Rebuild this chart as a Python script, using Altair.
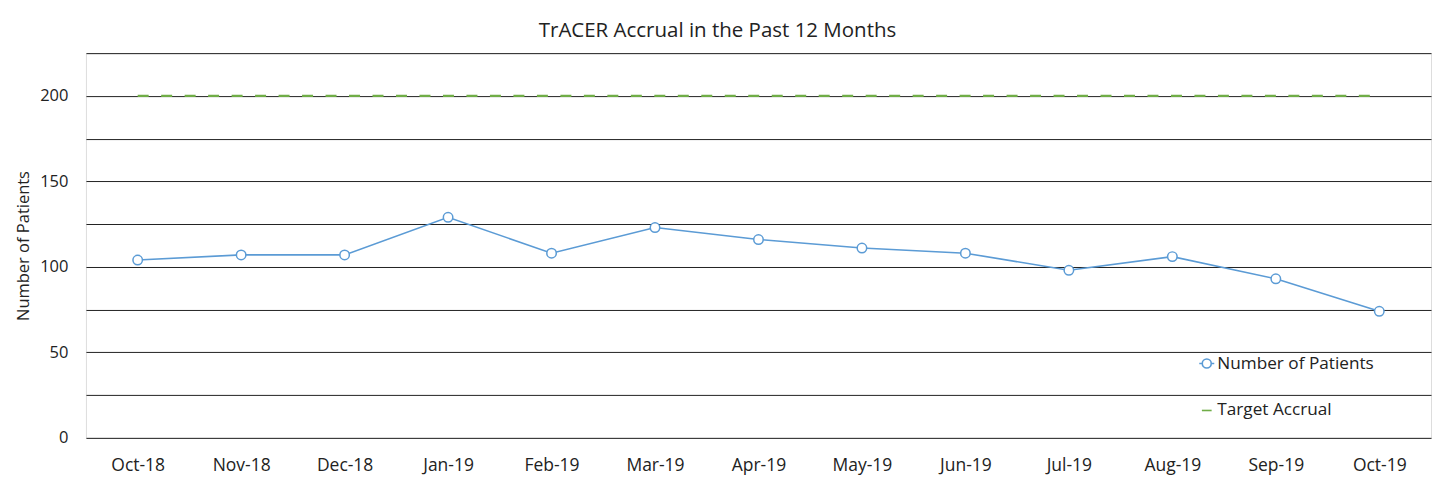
import altair as alt
import pandas as pd

months = ["Oct-18", "Nov-18", "Dec-18", "Jan-19", "Feb-19", "Mar-19", "Apr-19",
          "May-19", "Jun-19", "Jul-19", "Aug-19", "Sep-19", "Oct-19"]
patients = [104, 107, 107, 129, 108, 123, 116, 111, 108, 98, 106, 93, 74]
target = [200] * 13
series_names = ["Number of Patients", "Target Accrual"]

rows = []
for m, p, t in zip(months, patients, target):
    rows.append({"month": m, "series": series_names[0], "value": p})
    rows.append({"month": m, "series": series_names[1], "value": t})
df = pd.DataFrame(rows)

FONT = "Open Sans"
BLUE = "#5B9BD5"
GREEN = "#70AD47"

patients_path = "M-1,0H-0.6M0.6,0H1M0.6,0A0.6,0.6,0,1,1,-0.6,0A0.6,0.6,0,1,1,0.6,0"
target_path = "M-0.65,0H0.65"

x = alt.X("month:N", sort=months, title=None,
          scale=alt.Scale(type="point", padding=0.5),
          axis=alt.Axis(labelAngle=0, ticks=False, domain=False, grid=False,
                        labelPadding=19, labelFontSize=17.5, labelColor="#222"))
y = alt.Y("value:Q", title="Number of Patients",
          scale=alt.Scale(domain=[0, 225], nice=False),
          axis=alt.Axis(values=list(range(0, 226, 25)),
                        labelExpr="datum.value % 50 === 0 && datum.value < 225 ? datum.label : ''",
                        ticks=False, domain=False, grid=True, gridColor="#222",
                        labelPadding=18, labelFontSize=16.5, labelColor="#222",
                        titleFontSize=16.5, titleFontWeight="normal", titleColor="#222",
                        titlePadding=8))


def make_legend(ypos, shape):
    return alt.Legend(orient="none", legendX=1113, legendY=ypos, title=None,
                      labelFontSize=17.2, labelColor="#222", labelFont=FONT,
                      symbolSize=225, symbolStrokeWidth=1.6, symbolType=shape,
                      symbolFillColor="white", labelOffset=2)


patients_line = alt.Chart(df).transform_filter(
    alt.datum.series == series_names[0]
).mark_line(strokeWidth=1.6,
            point=alt.OverlayMarkDef(filled=False, fill="white", strokeWidth=1.5, size=90)
).encode(
    x=x, y=y,
    color=alt.Color("series:N", scale=alt.Scale(domain=[series_names[0]], range=[BLUE]),
                    legend=make_legend(302, patients_path)),
)

target_line = alt.Chart(df).transform_filter(
    alt.datum.series == series_names[1]
).mark_line(strokeWidth=2.2, strokeDash=[11, 12.5]).encode(
    x=x, y=y,
    color=alt.Color("series:N", scale=alt.Scale(domain=[series_names[1]], range=[GREEN]),
                    legend=make_legend(349, target_path)),
)

chart = alt.layer(target_line, patients_line).resolve_scale(
    color="independent"
).resolve_legend(color="independent").properties(
    width=1346, height=385,
    title=alt.TitleParams("TrACER Accrual in the Past 12 Months", fontSize=20.5,
                          font=FONT, fontWeight="normal", color="#222",
                          offset=12, dx=-41),
    autosize=alt.AutoSizeParams(type="none"),
    padding={"left": 78, "top": 45, "right": 10, "bottom": 45},
).configure_view(stroke="#111", strokeWidth=1).configure(
    font=FONT, background="white"
)

chart.save("out.html", embed_options={"renderer": "svg", "actions": False})
